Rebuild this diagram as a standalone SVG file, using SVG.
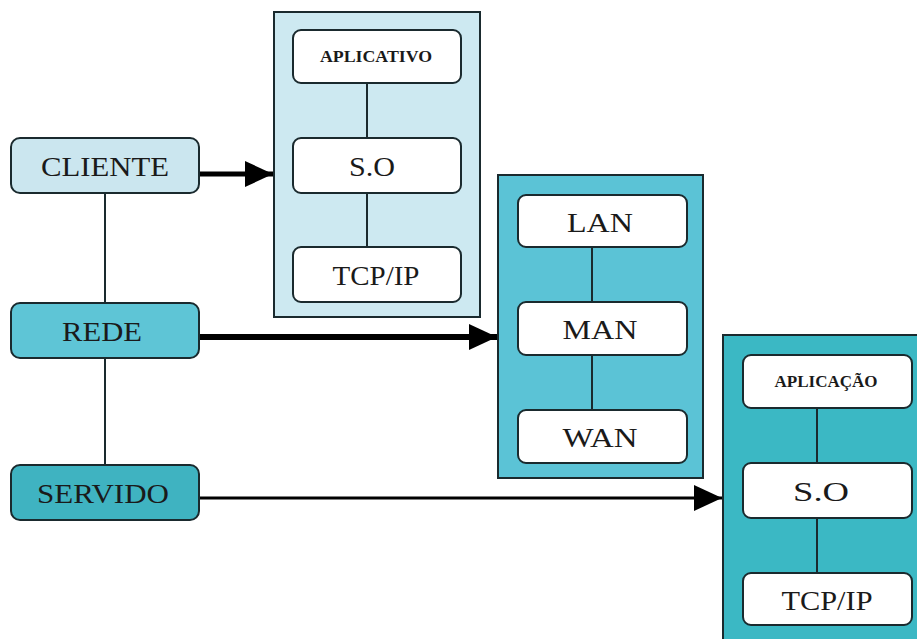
<svg xmlns="http://www.w3.org/2000/svg" width="917" height="639" viewBox="0 0 917 639">
  <style>
    .node rect { stroke: #1a2a2e; stroke-width: 2; }
    .panel { stroke: #1a2a2e; stroke-width: 2; }
    .inner { fill: #ffffff; }
    .lbl { font-family: "Liberation Serif", "Times New Roman", serif; fill: #1a1a1a; text-anchor: middle; }
    .big { font-size: 28px; }
    .small { font-size: 16px; font-weight: bold; }
    .link { stroke: #1a2a2e; stroke-width: 2; fill: none; }
    .arrow { stroke: #000; fill: none; }
  </style>
  <defs>
    <marker id="head" markerUnits="userSpaceOnUse" markerWidth="30" markerHeight="26" refX="28" refY="13" orient="auto">
      <path d="M0,0 L28,13 L0,26 Z" fill="#000"/>
    </marker>
  </defs>

  <rect width="917" height="639" fill="#ffffff"/>

  <!-- panels -->
  <g id="panel-cliente">
    <rect class="panel" x="274" y="12" width="206" height="305" fill="#cde9f1"/>
  </g>
  <g id="panel-rede">
    <rect class="panel" x="498" y="175" width="205" height="303" fill="#5bc3d6"/>
  </g>
  <g id="panel-servidor">
    <rect class="panel" x="723" y="335" width="200" height="310" fill="#3bb8c4"/>
  </g>

  <!-- connectors -->
  <g id="connectors">
    <line class="link" x1="105" y1="193" x2="105" y2="303"/>
    <line class="link" x1="105" y1="358" x2="105" y2="465"/>
    <line class="link" x1="367" y1="83" x2="367" y2="138"/>
    <line class="link" x1="367" y1="193" x2="367" y2="247"/>
    <line class="link" x1="592" y1="247" x2="592" y2="302"/>
    <line class="link" x1="592" y1="355" x2="592" y2="410"/>
    <line class="link" x1="817" y1="408" x2="817" y2="463"/>
    <line class="link" x1="817" y1="518" x2="817" y2="573"/>
    <line class="arrow" x1="199" y1="174" x2="273" y2="174" stroke-width="5" marker-end="url(#head)"/>
    <line class="arrow" x1="199" y1="337" x2="497" y2="337" stroke-width="6" marker-end="url(#head)"/>
    <line class="arrow" x1="199" y1="498" x2="722" y2="498" stroke-width="3" marker-end="url(#head)"/>
  </g>

  <!-- left column -->
  <g id="cliente" class="node">
    <rect x="11" y="138" width="188" height="55" rx="9" fill="#cbe6ef"/>
    <text class="lbl big" x="105" y="176" textLength="128" lengthAdjust="spacingAndGlyphs">CLIENTE</text>
  </g>
  <g id="rede" class="node">
    <rect x="11" y="303" width="188" height="55" rx="9" fill="#5ec5d6"/>
    <text class="lbl big" x="102" y="341" textLength="80" lengthAdjust="spacingAndGlyphs">REDE</text>
  </g>
  <g id="servido" class="node">
    <rect x="11" y="465" width="188" height="55" rx="9" fill="#3fb3c1"/>
    <text class="lbl big" x="103" y="503" textLength="132" lengthAdjust="spacingAndGlyphs">SERVIDO</text>
  </g>

  <!-- client stack -->
  <g id="aplicativo" class="node">
    <rect class="inner" x="293" y="30" width="168" height="53" rx="8"/>
    <text class="lbl small" x="376" y="62" textLength="112" lengthAdjust="spacingAndGlyphs">APLICATIVO</text>
  </g>
  <g id="so-cliente" class="node">
    <rect class="inner" x="293" y="138" width="168" height="55" rx="8"/>
    <text class="lbl big" x="372" y="176" textLength="46" lengthAdjust="spacingAndGlyphs">S.O</text>
  </g>
  <g id="tcpip-cliente" class="node">
    <rect class="inner" x="293" y="247" width="168" height="55" rx="8"/>
    <text class="lbl big" x="376" y="285" textLength="87" lengthAdjust="spacingAndGlyphs">TCP/IP</text>
  </g>

  <!-- network stack -->
  <g id="lan" class="node">
    <rect class="inner" x="518" y="195" width="169" height="52" rx="8"/>
    <text class="lbl big" x="600" y="232" textLength="66" lengthAdjust="spacingAndGlyphs">LAN</text>
  </g>
  <g id="man" class="node">
    <rect class="inner" x="518" y="302" width="169" height="53" rx="8"/>
    <text class="lbl big" x="600" y="339" textLength="75" lengthAdjust="spacingAndGlyphs">MAN</text>
  </g>
  <g id="wan" class="node">
    <rect class="inner" x="518" y="410" width="169" height="53" rx="8"/>
    <text class="lbl big" x="600" y="447" textLength="75" lengthAdjust="spacingAndGlyphs">WAN</text>
  </g>

  <!-- server stack -->
  <g id="aplicacao" class="node">
    <rect class="inner" x="743" y="355" width="169" height="53" rx="8"/>
    <text class="lbl small" x="826" y="387" textLength="103" lengthAdjust="spacingAndGlyphs">APLICAÇÃO</text>
  </g>
  <g id="so-servidor" class="node">
    <rect class="inner" x="743" y="463" width="169" height="55" rx="8"/>
    <text class="lbl big" x="821" y="501" textLength="56" lengthAdjust="spacingAndGlyphs">S.O</text>
  </g>
  <g id="tcpip-servidor" class="node">
    <rect class="inner" x="743" y="573" width="169" height="52" rx="8"/>
    <text class="lbl big" x="827" y="610" textLength="91" lengthAdjust="spacingAndGlyphs">TCP/IP</text>
  </g>
</svg>
